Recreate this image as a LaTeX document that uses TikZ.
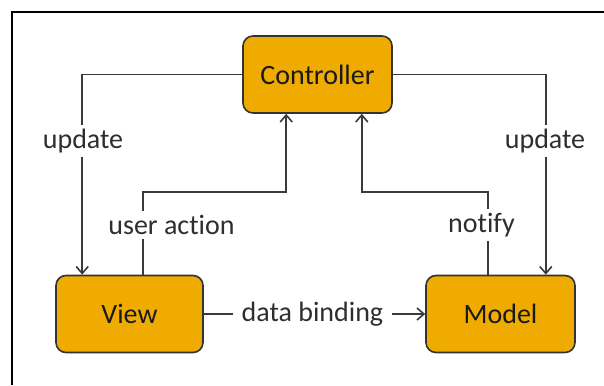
\documentclass[tikz,border=0pt]{standalone}
\usepackage{fontspec}
\setmainfont{Carlito}[Ligatures=NoCommon]
\usetikzlibrary{arrows.meta}
\definecolor{boxfill}{HTML}{F0AB00}
\definecolor{boxline}{HTML}{333333}
\definecolor{wirecol}{HTML}{3A3A3A}
\definecolor{labeltext}{HTML}{2E2E2E}
\begin{document}
\begin{tikzpicture}[x=1pt,y=-1pt,
  mvcbox/.style={draw=boxline, line width=1.6pt, fill=boxfill, rounded corners=10pt,
    minimum width=149pt, minimum height=77pt, inner sep=0pt,
    font=\fontsize{28}{33}\selectfont, text=black!90},
  wire/.style={draw=wirecol, line width=1.6pt},
  arr/.style={wire, -{Straight Barb[length=7pt,width=12pt,line width=1.6pt]}},
  lbl/.style={fill=white, inner xsep=9pt, inner ysep=4pt,
    font=\fontsize{28}{33}\selectfont, text=labeltext}]
\path[use as bounding box] (0,0) rectangle (604,385);
\draw[line width=1.8pt] (12,385) -- (12,12) -- (604,12);
\node[mvcbox] (ctrl) at (317.5,74.5) {Controller};
\node[mvcbox, minimum width=147pt] (view) at (129.5,314) {View};
\node[mvcbox] (model) at (500.5,314) {Model};
\draw[arr] (ctrl.west) -| ([xshift=27pt]view.north west);
\draw[arr] (ctrl.east) -| ([xshift=-30pt]model.north east);
\draw[arr] ([xshift=88pt]view.north west) -- ++(0,-83) -| ([xshift=44pt]ctrl.south west);
\draw[arr] ([xshift=63pt]model.north west) -- ++(0,-83) -| ([xshift=-31pt]ctrl.south east);
\draw[arr] (view.east) -- (model.west) node[lbl, midway, xshift=-2pt] (db) {data binding};
\node[lbl] (u1) at (83,141) {update};
\node[lbl] (u2) at (545,141) {update};
\node[lbl] (ua) at (171.5,225) {user action};
\node[lbl] (nt) at (481.5,225) {notify};
\end{tikzpicture}
\end{document}
